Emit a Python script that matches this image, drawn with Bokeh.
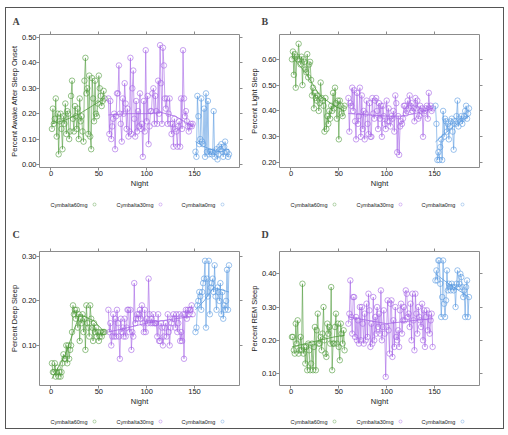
from bokeh.plotting import figure
from bokeh.layouts import gridplot
from bokeh.models import LinearAxis, FixedTicker, NumeralTickFormatter, Range1d
from bokeh.core.properties import value
from bokeh.embed import file_html
from bokeh.resources import INLINE

groups = ["Cymbalta60mg", "Cymbalta30mg", "Cymbalta0mg"]
colors = ["#4f9a3a", "#a463e6", "#5b9ae0"]

nights_60 = list(range(1, 57))
nights_30 = list(range(60, 149))
nights_0 = list(range(151, 187))

# ---- Panel A: Percent Awake After Sleep Onset
wake_60 = [0.14, 0.22, 0.16, 0.18, 0.26, 0.11, 0.20, 0.04, 0.17, 0.20,
           0.14, 0.06, 0.19, 0.16, 0.24, 0.12, 0.21, 0.20, 0.10, 0.13,
           0.27, 0.33, 0.18, 0.13, 0.23, 0.19, 0.14, 0.22, 0.10, 0.26,
           0.17, 0.19, 0.13, 0.09, 0.33, 0.42, 0.28, 0.30, 0.12, 0.35,
           0.11, 0.06, 0.34, 0.26, 0.17, 0.33, 0.20, 0.19, 0.24, 0.35,
           0.30, 0.27, 0.23, 0.25, 0.29, 0.26]
wake_30 = [0.26, 0.12, 0.25, 0.10, 0.15, 0.18, 0.20, 0.06, 0.19, 0.28,
           0.28, 0.39, 0.20, 0.16, 0.09, 0.26, 0.20, 0.32, 0.24, 0.14,
           0.22, 0.11, 0.13, 0.42, 0.12, 0.30, 0.37, 0.18, 0.11, 0.25,
           0.13, 0.21, 0.15, 0.28, 0.14, 0.16, 0.03, 0.25, 0.13, 0.45,
           0.17, 0.27, 0.08, 0.15, 0.21, 0.21, 0.28, 0.30, 0.16, 0.27,
           0.21, 0.16, 0.33, 0.20, 0.47, 0.32, 0.16, 0.46, 0.39, 0.26,
           0.22, 0.26, 0.16, 0.20, 0.26, 0.16, 0.12, 0.16, 0.07, 0.18,
           0.14, 0.13, 0.07, 0.15, 0.17, 0.07, 0.26, 0.14, 0.45, 0.26,
           0.19, 0.21, 0.17, 0.15, 0.13, 0.15, 0.16, 0.15, 0.16]
wake_0 = [0.05, 0.03, 0.27, 0.19, 0.08, 0.10, 0.26, 0.09, 0.08, 0.22,
          0.03, 0.28, 0.05, 0.25, 0.04, 0.05, 0.05, 0.04, 0.05, 0.21,
          0.03, 0.05, 0.06, 0.02, 0.04, 0.07, 0.06, 0.08, 0.05, 0.03,
          0.07, 0.09, 0.05, 0.05, 0.03, 0.04]

# ---- Panel B: Percent Light Sleep
light_60 = [0.60, 0.63, 0.54, 0.62, 0.49, 0.61, 0.60, 0.66, 0.60, 0.58,
            0.61, 0.50, 0.60, 0.59, 0.56, 0.55, 0.62, 0.53, 0.58, 0.59,
            0.52, 0.46, 0.49, 0.41, 0.47, 0.45, 0.44, 0.46, 0.40, 0.43,
            0.51, 0.45, 0.44, 0.42, 0.32, 0.45, 0.33, 0.38, 0.35, 0.40,
            0.37, 0.42, 0.40, 0.47, 0.41, 0.49, 0.43, 0.37, 0.44, 0.29,
            0.44, 0.42, 0.39, 0.38, 0.41, 0.42]
light_30 = [0.45, 0.32, 0.43, 0.42, 0.49, 0.40, 0.48, 0.36, 0.29, 0.47,
            0.35, 0.38, 0.49, 0.30, 0.46, 0.33, 0.40, 0.29, 0.39, 0.44,
            0.35, 0.31, 0.43, 0.30, 0.30, 0.45, 0.39, 0.37, 0.44, 0.45,
            0.40, 0.33, 0.43, 0.37, 0.42, 0.30, 0.42, 0.38, 0.35, 0.33,
            0.44, 0.36, 0.41, 0.36, 0.34, 0.38, 0.37, 0.40, 0.32, 0.46,
            0.43, 0.24, 0.38, 0.23, 0.34, 0.36, 0.35, 0.37, 0.42, 0.42,
            0.39, 0.40, 0.44, 0.41, 0.46, 0.42, 0.43, 0.40, 0.41, 0.36,
            0.45, 0.41, 0.44, 0.37, 0.38, 0.42, 0.40, 0.41, 0.30, 0.39,
            0.40, 0.41, 0.42, 0.37, 0.47, 0.41, 0.42, 0.40, 0.41]
light_0 = [0.42, 0.35, 0.21, 0.24, 0.21, 0.26, 0.29, 0.21, 0.40, 0.30,
           0.37, 0.36, 0.32, 0.35, 0.29, 0.34, 0.36, 0.37, 0.32, 0.25,
           0.36, 0.35, 0.38, 0.44, 0.34, 0.37, 0.36, 0.38, 0.35, 0.37,
           0.38, 0.40, 0.42, 0.37, 0.39, 0.41]

# ---- Panel C: Percent Deep Sleep
deep_60 = [0.06, 0.04, 0.04, 0.06, 0.03, 0.04, 0.05, 0.03, 0.04, 0.03,
           0.04, 0.06, 0.08, 0.07, 0.07, 0.10, 0.06, 0.10, 0.07, 0.09,
           0.10, 0.13, 0.19, 0.17, 0.18, 0.16, 0.18, 0.14, 0.17, 0.11,
           0.16, 0.15, 0.17, 0.13, 0.16, 0.09, 0.19, 0.15, 0.14, 0.12,
           0.19, 0.16, 0.14, 0.11, 0.15, 0.13, 0.14, 0.12, 0.13, 0.11,
           0.12, 0.13, 0.12, 0.13, 0.13, 0.13]
deep_30 = [0.18, 0.13, 0.15, 0.10, 0.12, 0.17, 0.12, 0.16, 0.12, 0.18,
           0.15, 0.12, 0.07, 0.16, 0.13, 0.14, 0.12, 0.16, 0.12, 0.14,
           0.18, 0.18, 0.13, 0.18, 0.09, 0.13, 0.12, 0.24, 0.15, 0.16,
           0.17, 0.16, 0.17, 0.18, 0.16, 0.19, 0.15, 0.13, 0.18, 0.13,
           0.16, 0.15, 0.25, 0.17, 0.15, 0.16, 0.15, 0.17, 0.15, 0.15,
           0.15, 0.12, 0.17, 0.11, 0.11, 0.15, 0.14, 0.10, 0.12, 0.14,
           0.15, 0.12, 0.17, 0.13, 0.10, 0.14, 0.15, 0.16, 0.17, 0.16,
           0.14, 0.17, 0.13, 0.15, 0.17, 0.11, 0.13, 0.11, 0.17, 0.07,
           0.17, 0.18, 0.16, 0.18, 0.17, 0.18, 0.18, 0.19, 0.17]
deep_0 = [0.13, 0.14, 0.19, 0.20, 0.22, 0.21, 0.18, 0.22, 0.24, 0.25,
          0.29, 0.14, 0.25, 0.21, 0.29, 0.17, 0.23, 0.24, 0.25, 0.22,
          0.28, 0.21, 0.18, 0.23, 0.22, 0.20, 0.24, 0.17, 0.22, 0.16,
          0.19, 0.18, 0.20, 0.27, 0.18, 0.28]

# ---- Panel D: Percent REM Sleep
rem_60 = [0.21, 0.21, 0.17, 0.16, 0.25, 0.19, 0.26, 0.16, 0.17, 0.21,
          0.17, 0.37, 0.16, 0.18, 0.13, 0.18, 0.11, 0.19, 0.17, 0.11,
          0.13, 0.19, 0.11, 0.18, 0.24, 0.11, 0.23, 0.28, 0.19, 0.19,
          0.21, 0.17, 0.22, 0.30, 0.20, 0.16, 0.15, 0.25, 0.22, 0.24,
          0.19, 0.36, 0.11, 0.19, 0.19, 0.24, 0.28, 0.19, 0.25, 0.18,
          0.14, 0.25, 0.22, 0.19, 0.23, 0.17]
rem_30 = [0.25, 0.28, 0.38, 0.27, 0.22, 0.33, 0.33, 0.21, 0.27, 0.20,
          0.26, 0.19, 0.30, 0.20, 0.30, 0.25, 0.19, 0.28, 0.20, 0.31,
          0.21, 0.34, 0.29, 0.18, 0.25, 0.19, 0.33, 0.20, 0.27, 0.22,
          0.30, 0.24, 0.28, 0.22, 0.35, 0.20, 0.24, 0.29, 0.22, 0.09,
          0.24, 0.32, 0.23, 0.16, 0.31, 0.32, 0.15, 0.26, 0.18, 0.30,
          0.21, 0.20, 0.23, 0.18, 0.29, 0.31, 0.22, 0.26, 0.30, 0.26,
          0.35, 0.34, 0.27, 0.28, 0.24, 0.31, 0.20, 0.34, 0.26, 0.17,
          0.34, 0.28, 0.22, 0.30, 0.27, 0.26, 0.24, 0.31, 0.20, 0.29,
          0.18, 0.27, 0.29, 0.23, 0.28, 0.22, 0.26, 0.28, 0.18]
rem_0 = [0.38, 0.41, 0.38, 0.44, 0.44, 0.37, 0.27, 0.33, 0.44, 0.31,
         0.27, 0.32, 0.41, 0.35, 0.37, 0.36, 0.35, 0.37, 0.36, 0.35,
         0.36, 0.30, 0.37, 0.41, 0.36, 0.37, 0.40, 0.39, 0.36, 0.33,
         0.35, 0.27, 0.36, 0.38, 0.27, 0.33]

# ---- smoothed (loess) trend lines
smooth_x_60 = [1, 15, 30, 45, 56]
smooth_x_30 = [60, 80, 100, 115, 130, 148]
smooth_x_0 = [151, 160, 170, 178, 186]
wake_smooth = [[0.16, 0.175, 0.20, 0.235, 0.26],
               [0.195, 0.20, 0.20, 0.205, 0.19, 0.15],
               [0.09, 0.07, 0.055, 0.05, 0.06]]
light_smooth = [[0.61, 0.55, 0.46, 0.42, 0.40],
                [0.39, 0.385, 0.38, 0.38, 0.39, 0.41],
                [0.28, 0.31, 0.34, 0.36, 0.38]]
deep_smooth = [[0.025, 0.08, 0.17, 0.155, 0.13],
               [0.13, 0.14, 0.15, 0.155, 0.16, 0.165],
               [0.18, 0.20, 0.23, 0.225, 0.22]]
rem_smooth = [[0.18, 0.19, 0.20, 0.21, 0.215],
              [0.27, 0.26, 0.25, 0.255, 0.26, 0.265],
              [0.40, 0.38, 0.36, 0.345, 0.33]]

x_ticks = [0, 50, 100, 150]

FRAME = "#8c8c8c"
TXT = "#222222"


def make_panel(letter, ylabel, series, smooth, yr, yticks, w, h, bl, br, bt, bb,
               title_off, title_standoff):
    p = figure(width=w, height=h, x_range=Range1d(-12, 197), y_range=Range1d(*yr),
               output_backend="svg", toolbar_location=None, title=letter,
               min_border_left=bl, min_border_right=br, min_border_top=bt,
               min_border_bottom=bb)
    p.title.text_font = "Liberation Serif"
    p.title.text_font_style = "bold"
    p.title.text_font_size = "10px"
    p.title.align = "left"
    p.title.offset = title_off
    p.title.standoff = title_standoff
    p.xgrid.visible = False
    p.ygrid.visible = False
    p.outline_line_color = FRAME
    p.outline_line_width = 1
    p.background_fill_color = "white"
    p.border_fill_color = "white"

    for ax, ticks in ((p.xaxis[0], x_ticks), (p.yaxis[0], yticks)):
        ax.ticker = FixedTicker(ticks=ticks)
        ax.axis_line_color = None
        ax.major_tick_line_color = FRAME
        ax.major_tick_in = 0
        ax.major_tick_out = 3
        ax.minor_tick_line_color = None
        ax.major_label_text_font = "Liberation Sans"
        ax.major_label_text_font_size = "7.5px"
        ax.major_label_text_color = TXT
        ax.major_label_standoff = 0
        ax.axis_label_text_font = "Liberation Sans"
        ax.axis_label_text_font_size = "7.5px"
        ax.axis_label_text_font_style = "normal"
        ax.axis_label_text_color = TXT
        ax.axis_label_standoff = 0
    p.xaxis[0].axis_label = "Night"
    p.yaxis[0].axis_label = ylabel
    p.yaxis[0].formatter = NumeralTickFormatter(format="0.00")

    # lattice-style tick marks on the top and right sides (no labels)
    top = LinearAxis(ticker=FixedTicker(ticks=x_ticks))
    right = LinearAxis(ticker=FixedTicker(ticks=yticks))
    for ax in (top, right):
        ax.axis_line_color = None
        ax.major_tick_line_color = FRAME
        ax.major_tick_in = 0
        ax.major_tick_out = 3
        ax.minor_tick_line_color = None
        ax.major_label_text_font_size = "1px"
        ax.major_label_text_alpha = 0
        ax.major_label_standoff = 0
    p.add_layout(top, "above")
    p.add_layout(right, "right")

    nights = [nights_60, nights_30, nights_0]
    sxs = [smooth_x_60, smooth_x_30, smooth_x_0]
    for i in range(3):
        p.line(nights[i], series[i], line_color=colors[i], line_width=0.6)
        p.scatter(nights[i], series[i], marker="circle", size=5.5, fill_color=None,
                  line_color=colors[i], line_width=0.6)
        p.line(sxs[i], smooth[i], line_color=colors[i], line_width=0.8)
    return p


# key strip under each panel (its frame is aligned with the panel frame above):
# text followed by a small coloured circle, offsets in px from the frame's left
KEY_TEXT_X = [11, 77, 142]
KEY_DOT_X = [55, 121, 183]


def make_key(w, h):
    k = figure(width=w, height=h, x_range=Range1d(0, 200), y_range=Range1d(0, h),
               output_backend="svg", toolbar_location=None,
               x_axis_type=None, y_axis_type=None, min_border=0)
    k.xgrid.visible = False
    k.ygrid.visible = False
    k.outline_line_color = None
    k.border_fill_color = "white"
    k.text(x=KEY_TEXT_X, y=[h / 2.0] * 3, text=groups,
           text_font=value("Liberation Sans"), text_font_size=value("5.5px"),
           text_color=TXT, text_align="left", text_baseline="middle")
    k.scatter(x=KEY_DOT_X, y=[h / 2.0] * 3, marker="circle",
              size=3, fill_color=None, line_color=colors, line_width=0.6,
              line_alpha=0.7)
    return k


pA = make_panel("A", "Percent Awake After Sleep Onset", [wake_60, wake_30, wake_0],
                wake_smooth, (-0.012, 0.512), [0.0, 0.1, 0.2, 0.3, 0.4, 0.5],
                237, 185, 32, 4, 25, 26, -27, 10)
pB = make_panel("B", "Percent Light Sleep", [light_60, light_30, light_0],
                light_smooth, (0.181, 0.696), [0.2, 0.3, 0.4, 0.5, 0.6],
                260, 185, 36, 24, 25, 26, -18, 10)
pC = make_panel("C", "Percent Deep Sleep", [deep_60, deep_30, deep_0],
                deep_smooth, (0.010, 0.311), [0.1, 0.2, 0.3],
                237, 199, 32, 4, 36, 29, -27, 17)
pD = make_panel("D", "Percent REM Sleep", [rem_60, rem_30, rem_0],
                rem_smooth, (0.064, 0.467), [0.1, 0.2, 0.3, 0.4],
                260, 199, 36, 24, 36, 29, -18, 17)

kA = make_key(237, 22)
kB = make_key(260, 22)
kC = make_key(237, 14)
kD = make_key(260, 14)

grid = gridplot([[pA, pB], [kA, kB], [pC, pD], [kC, kD]], toolbar_location=None)
grid.styles = {"border": "1px solid #555555", "margin-left": "5px",
               "margin-top": "7px"}

open("out.html", "w").write(file_html(grid, INLINE))
